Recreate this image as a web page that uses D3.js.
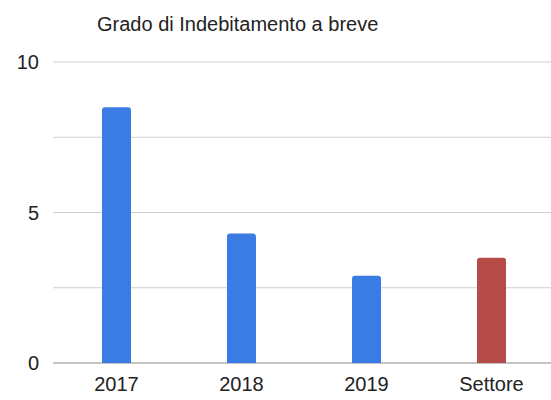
<!DOCTYPE html>
<html><head><meta charset="utf-8">
<script src="https://cdn.jsdelivr.net/npm/d3@7"></script>
<style>body{margin:0;background:#fff;}svg{display:block;font-family:"Liberation Sans",Arial,sans-serif;}</style>
</head><body>
<svg id="c" width="551" height="400"></svg>
<script>
const categories = ["2017", "2018", "2019", "Settore"];
const values = [8.5, 4.3, 2.9, 3.5];
const barColors = ["#3b7be4", "#3b7be4", "#3b7be4", "#b64c48"];
const yTicks = [0, 2.5, 5, 7.5, 10];
const yTickLabels = ["0", "", "5", "", "10"];
const title = "Grado di Indebitamento a breve";

const svg = d3.select("#c");
const y = d3.scaleLinear().domain([0, 10]).range([363, 62]);
const x = d3.scaleBand().domain(categories).range([54, 554]);
const barW = 29;

// gridlines
svg.append("g").selectAll("line").data(yTicks).join("line")
  .attr("x1", 53).attr("x2", 551)
  .attr("y1", d => y(d)).attr("y2", d => y(d))
  .attr("stroke", d => d === 0 ? "#888" : "#cfcfcf").attr("stroke-width", 1);

// y labels
svg.append("g").selectAll("text").data(yTicks).join("text")
  .attr("x", 39).attr("y", d => y(d) + 7)
  .attr("text-anchor", "end").attr("font-size", 20).attr("fill", "#222")
  .text((d, i) => yTickLabels[i]);

// bars
svg.append("g").selectAll("path").data(values).join("path")
  .attr("fill", (d, i) => barColors[i])
  .attr("d", (d, i) => {
    const cx = x(categories[i]) + x.bandwidth() / 2;
    const x0 = cx - barW / 2, x1 = cx + barW / 2;
    const top = y(d), bot = y(0), r = 3;
    return `M${x0},${bot}V${top + r}Q${x0},${top} ${x0 + r},${top}H${x1 - r}Q${x1},${top} ${x1},${top + r}V${bot}Z`;
  });

// x labels
svg.append("g").selectAll("text").data(categories).join("text")
  .attr("x", d => x(d) + x.bandwidth() / 2).attr("y", 391)
  .attr("text-anchor", "middle").attr("font-size", 20).attr("fill", "#222")
  .text(d => d);

// title
svg.append("text").attr("x", 97).attr("y", 31)
  .attr("font-size", 20).attr("fill", "#222").text(title);
</script>
</body></html>
